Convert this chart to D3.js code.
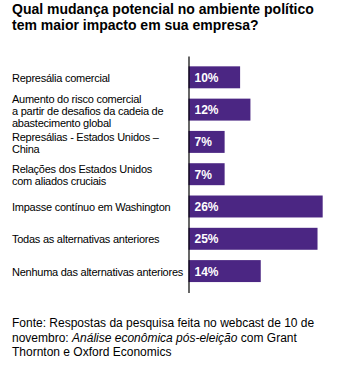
<!DOCTYPE html>
<html>
<head>
<meta charset="utf-8">
<script src="https://cdn.jsdelivr.net/npm/d3@7"></script>
<style>
  html, body { margin: 0; padding: 0; background: #ffffff; }
  svg { display: block; }
</style>
</head>
<body>
<svg id="chart" width="343" height="374"></svg>
<script>
// ---- data ----
const titleLines = [
  "Qual mudança potencial no ambiente político",
  "tem maior impacto em sua empresa?"
];
const categories = [
  ["Represália comercial"],
  ["Aumento do risco comercial", "a partir de desafios da cadeia de", "abastecimento global"],
  ["Represálias - Estados Unidos \u2013", "China"],
  ["Relações dos Estados Unidos", "com aliados cruciais"],
  ["Impasse contínuo em Washington"],
  ["Todas as alternativas anteriores"],
  ["Nenhuma das alternativas anteriores"]
];
const values = [10, 12, 7, 7, 26, 25, 14];
const valueLabels = ["10%", "12%", "7%", "7%", "26%", "25%", "14%"];

// ---- layout ----
const svg = d3.select("#chart");
const font = "'Liberation Sans', Arial, sans-serif";
const purple = "#4b2683";

const x = d3.scaleLinear().domain([0, 28]).range([188.5, 333]);
const y = d3.scaleBand().domain(d3.range(categories.length))
  .range([56, 292.4]).paddingInner(0.32).paddingOuter(0.32);

// title
svg.append("text")
  .attr("font-family", font).attr("font-weight", "bold").attr("font-size", 14)
  .attr("fill", "#000")
  .selectAll("tspan").data(titleLines).join("tspan")
  .attr("x", 12).attr("y", (d, i) => 14 + i * 16)
  .text(d => d);

// bars
svg.append("g").selectAll("rect").data(values).join("rect")
  .attr("x", x(0))
  .attr("y", (d, i) => y(i))
  .attr("width", d => x(d) - x(0))
  .attr("height", y.bandwidth())
  .attr("fill", purple);

// value labels
svg.append("g").selectAll("text").data(valueLabels).join("text")
  .attr("x", x(0) + 6)
  .attr("y", (d, i) => y(i) + y.bandwidth() / 2 + 4.5)
  .attr("font-family", font).attr("font-weight", "bold").attr("font-size", 12)
  .attr("fill", "#ffffff")
  .text(d => d);

// axis line (left)
const axis = d3.axisLeft(y).tickSize(0).tickFormat("");
const ag = svg.append("g").attr("transform", `translate(${x(0)},0)`).call(axis);
ag.select(".domain").attr("stroke", "#000").attr("stroke-width", 1.2);

// category labels
const lg = svg.append("g").attr("font-family", font).attr("font-size", 11)
  .attr("letter-spacing", "-0.25px").attr("fill", "#000");
categories.forEach((lines, i) => {
  const c = y(i) + y.bandwidth() / 2;
  const first = c + 4.5 - (lines.length - 1) * 5.5;
  const t = lg.append("text");
  t.selectAll("tspan").data(lines).join("tspan")
    .attr("x", 12).attr("y", (d, j) => first + j * 12)
    .text(d => d);
});

// footer
const footer = svg.append("text")
  .attr("font-family", font).attr("font-size", 12).attr("fill", "#000");
footer.append("tspan").attr("x", 12).attr("y", 327)
  .text("Fonte: Respostas da pesquisa feita no webcast de 10 de");
footer.append("tspan").attr("x", 12).attr("y", 341.5).text("novembro: ");
footer.append("tspan").attr("font-style", "italic").text("Análise econômica pós-eleição");
footer.append("tspan").text(" com Grant");
footer.append("tspan").attr("x", 12).attr("y", 356).text("Thornton e Oxford Economics");
</script>
</body>
</html>
